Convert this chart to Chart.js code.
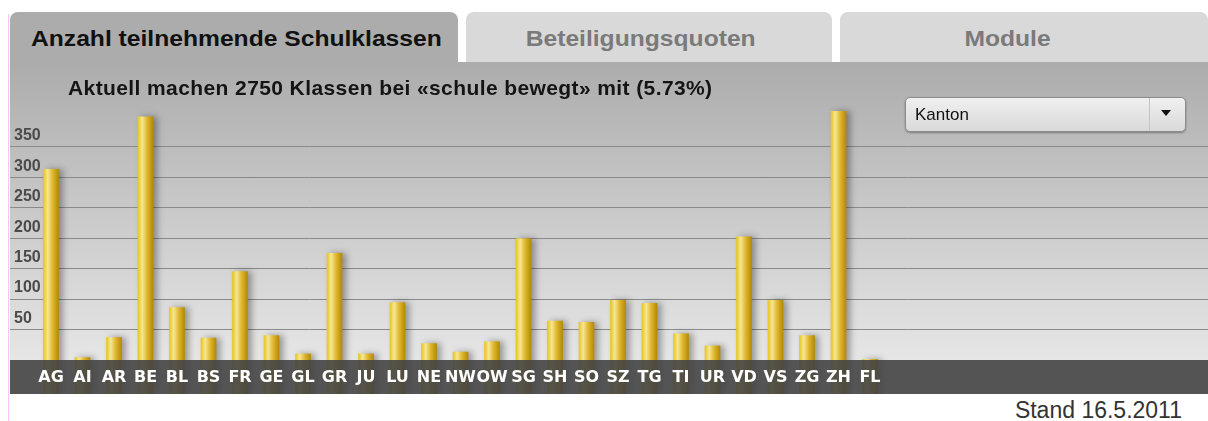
<!DOCTYPE html>
<html><head><meta charset="utf-8">
<script src="https://cdn.jsdelivr.net/npm/chart.js@4.4.0/dist/chart.umd.min.js"></script>
<style>
html,body{margin:0;padding:0;background:#fff;}
body{width:1208px;height:421px;position:relative;overflow:hidden;font-family:"Liberation Sans",Arial,sans-serif;}
.pink{position:absolute;left:8px;top:14px;width:1px;height:407px;background:#f6c4f6;}
.tab{position:absolute;top:12px;height:50px;border-radius:8px 8px 0 0;display:flex;align-items:center;justify-content:center;font-weight:bold;font-size:22px;box-sizing:border-box;padding-top:3px;}
.tab span{display:inline-block;transform:scaleX(1.12);}
#t1{left:10px;width:448px;background:#acacac;color:#111;padding-left:5px;}
#t2{left:466px;width:366px;background:#d9d9d9;color:#7a7a7a;padding-right:16px;}
#t3{left:840px;width:368px;background:#d9d9d9;color:#7a7a7a;padding-right:34px;}
#panel{position:absolute;left:10px;top:62px;width:1198px;height:332px;background:linear-gradient(to bottom,#acacac 0px,#e6e6e6 298px);}
#wrap{position:absolute;left:10px;top:62px;width:1198px;height:332px;}
#sub{position:absolute;left:68px;top:77px;font-weight:bold;font-size:21px;line-height:21px;letter-spacing:0.4px;color:#141414;white-space:nowrap;}
#sel{position:absolute;left:905px;top:97px;width:281px;height:35px;box-sizing:border-box;border:1px solid #8c8c8c;border-radius:5px;background:linear-gradient(#f0f0f0,#d9d9d9);box-shadow:0 1px 2px rgba(0,0,0,.35);}
#sel .lbl{position:absolute;left:9px;top:0;line-height:33px;font-size:17px;color:#111;}
#sel .dv{position:absolute;left:243px;top:0;width:1px;height:33px;background:#c4c4c4;}
#sel .arr{position:absolute;left:255px;top:12px;width:0;height:0;border-left:5px solid transparent;border-right:5px solid transparent;border-top:6px solid #111;}
#foot{position:absolute;right:26px;top:399px;font-size:23px;line-height:23px;color:#333;white-space:nowrap;}
</style>
</head>
<body>
<div class="pink"></div>
<div class="tab" id="t1"><span>Anzahl teilnehmende Schulklassen</span></div>
<div class="tab" id="t2"><span>Beteiligungsquoten</span></div>
<div class="tab" id="t3"><span>Module</span></div>
<div id="panel"></div>
<div id="wrap"><canvas id="c"></canvas></div>
<div id="sub">Aktuell machen 2750 Klassen bei «schule bewegt» mit (5.73%)</div>
<div id="sel"><div class="lbl">Kanton</div><div class="dv"></div><div class="arr"></div></div>
<div id="foot">Stand 16.5.2011</div>
<script>
const cantons = ['AG','AI','AR','BE','BL','BS','FR','GE','GL','GR','JU','LU','NE','NW','OW','SG','SH','SO','SZ','TG','TI','UR','VD','VS','ZG','ZH','FL'];
const classes = [313,4,37,399,86,36,145,40,10,175,10,94,27,13,30,199,64,62,98,93,43,23,202,98,40,408,1];
const yTickValues = [50,100,150,200,250,300,350];

function goldFill(c, x) {
  const g = c.createLinearGradient(x - 7.5, 0, x + 7.5, 0);
  g.addColorStop(0, '#e8c61e');
  g.addColorStop(0.28, '#f6e694');
  g.addColorStop(0.6, '#e0b830');
  g.addColorStop(1, '#b68a04');
  return g;
}

const barFx = {
  id: 'barFx',
  beforeDatasetsDraw(chart) {
    const c = chart.ctx;
    c.save();
    c.shadowColor = 'rgba(0,0,0,0.33)';
    c.shadowBlur = 6;
    c.shadowOffsetX = 4;
    c.shadowOffsetY = 0;
  },
  afterDatasetsDraw(chart) {
    const c = chart.ctx;
    c.restore();
    const a = chart.chartArea;
    c.save();
    c.fillStyle = 'rgba(68,68,68,0.9)';
    c.fillRect(0, a.bottom, chart.width, chart.height - a.bottom);
    c.restore();
  }
};

new Chart(document.getElementById('c'), {
  type: 'bar',
  data: {
    datasets: [{
      data: classes.map((v, i) => ({x: i, y: v})),
      barThickness: 15,
      base: -55,
      clip: false,
      borderWidth: 0,
      backgroundColor(ctx) {
        const chart = ctx.chart;
        const xs = chart.scales && chart.scales.x;
        if (!xs || ctx.type !== 'data') return '#e0b830';
        const cx = xs.getPixelForValue(ctx.dataIndex);
        if (!isFinite(cx)) return '#e0b830';
        return goldFill(chart.ctx, cx);
      }
    }]
  },
  options: {
    responsive: true,
    maintainAspectRatio: false,
    animation: false,
    layout: {padding: {top: 42, left: 0, right: 0, bottom: 0}},
    plugins: {legend: {display: false}, tooltip: {enabled: false}},
    scales: {
      x: {
        type: 'linear',
        offset: false,
        min: -1.3016,
        max: 36.73,
        afterBuildTicks: a => { a.ticks = cantons.map((c, i) => ({value: i})); },
        afterFit: a => { a.height = 34; a.paddingLeft = 0; a.paddingRight = 0; },
        grid: {display: false, drawTicks: false, offset: false},
        border: {display: false},
        ticks: {
          autoSkip: false, maxRotation: 0, minRotation: 0, padding: 8, z: 1,
          color: '#ffffff',
          font: {family: '"DejaVu Sans", Verdana, sans-serif', size: 16, weight: 'bold'},
          callback: v => cantons[v] ?? ''
        }
      },
      y: {
        min: 0,
        max: 420,
        position: 'left',
        afterBuildTicks: a => { a.ticks = yTickValues.map(v => ({value: v})); },
        afterFit: a => { a.width = 0; a.paddingTop = 0; a.paddingBottom = 0; },
        grid: {color: '#8a8a8a', lineWidth: 1, drawTicks: false},
        border: {display: false},
        ticks: {
          mirror: true, padding: 4, labelOffset: -11,
          color: '#4a4a4a',
          font: {family: '"Liberation Sans", Arial, sans-serif', size: 16, weight: 'bold'}
        }
      }
    }
  },
  plugins: [barFx]
});
</script>
</body></html>
